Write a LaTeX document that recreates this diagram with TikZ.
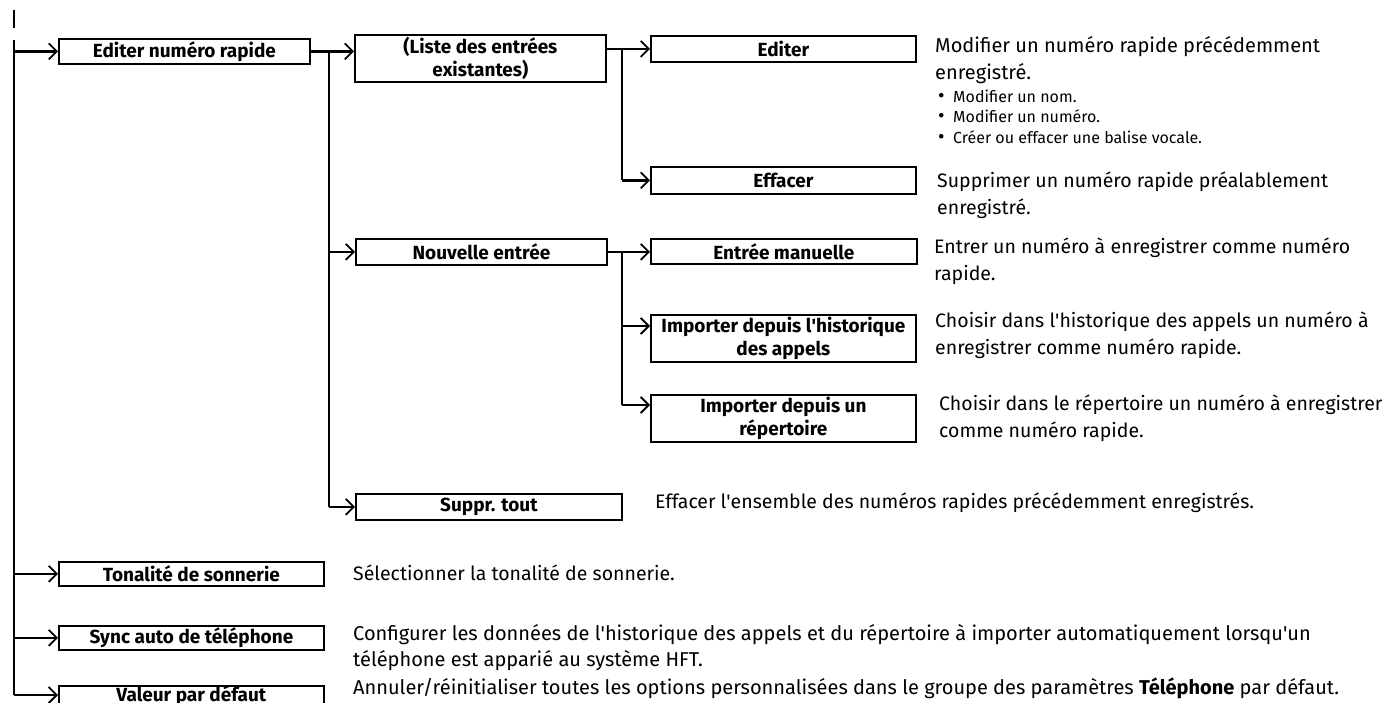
\documentclass[tikz,border=0pt]{standalone}
\usepackage{fontspec}
\setmainfont{Fira Sans}
\usetikzlibrary{arrows.meta}
\newcommand{\ap}{\textquotesingle}
\newcommand{\dotmark}{\makebox[15pt][l]{\smash{\fontsize{20}{0}\selectfont\textbullet}}}

\tikzset{
  menubox/.style={draw, line width=1.8pt, inner sep=0pt, anchor=north west, align=center,
    font=\fontsize{19}{23}\selectfont\bfseries},
  desc/.style={anchor=base west, inner sep=0pt, align=left, font=\fontsize{19.5}{27}\selectfont},
  bullets/.style={anchor=base west, inner sep=0pt, align=left, font=\fontsize{16}{20.5}\selectfont},
  branch/.style={line width=2.2pt},
  feed/.style={line width=2.2pt, -{Straight Barb[length=8pt,width=16pt,line width=1.8pt]}},
}

\begin{document}
\begin{tikzpicture}[x=1pt,y=-1pt]
  \useasboundingbox (0,0) rectangle (1384,702);
  \fill[white] (0,0) rectangle (1384,702);

  % Main menu column
  \node[menubox, minimum width=251, minimum height=25] (edit) at (58,38) {Editer numéro rapide};
  \node[menubox, minimum width=265, minimum height=24] (tone) at (58,561) {Tonalité de sonnerie};
  \node[menubox, minimum width=265, minimum height=24] (sync) at (58,625) {Sync auto de téléphone};
  \node[menubox, minimum width=265, minimum height=16] (reset) at (58,685) {Valeur par défaut};

  % Second column
  \node[menubox, minimum width=251, minimum height=47] (list) at (354,34) {(Liste des entrées\\existantes)};
  \node[menubox, minimum width=251, minimum height=26] (new) at (355,238) {Nouvelle entrée};
  \node[menubox, minimum width=266, minimum height=26] (clear) at (355,493) {Suppr. tout};

  % Third column
  \node[menubox, minimum width=265, minimum height=26] (editer) at (650,35) {Editer};
  \node[menubox, minimum width=265, minimum height=27] (erase) at (650,166) {Effacer};
  \node[menubox, minimum width=266, minimum height=25] (manual) at (650,238) {Entrée manuelle};
  \node[menubox, minimum width=265, minimum height=47] (hist) at (650,314) {Importer depuis l\ap historique\\des appels};
  \node[menubox, minimum width=265, minimum height=47] (dir) at (650,394) {Importer depuis un\\répertoire};

  % Trunk and branches
  \coordinate (stub) at (14,10);
  \coordinate (stubend) at (14,28);
  \coordinate (trunk) at (14,40);
  \coordinate (trunkend) at (14,695);
  \coordinate (forka) at (329,0);
  \coordinate (forkb) at (622,0);
  \coordinate (histin) at (622,326);
  \coordinate (dirin) at (622,405);

  \draw[branch] (stub) -- (stubend);
  \draw[branch] (trunk) -- (trunkend);
  \draw[feed] (trunk |- edit.west) -- (edit.west);
  \draw[feed] (trunk |- tone.west) -- (tone.west);
  \draw[feed] (trunk |- sync.west) -- (sync.west);
  \draw[feed] (trunkend) -- (trunkend -| reset.west);

  \draw[feed] (edit.east) -- (edit.east -| list.west);
  \draw[branch] (forka |- edit.east) -- (forka |- clear.west);
  \draw[feed] (forka |- new.west) -- (new.west);
  \draw[feed] (forka |- clear.west) -- (clear.west);

  \draw[feed] (list.east |- editer.west) -- (editer.west);
  \draw[branch] (forkb |- editer.west) -- (forkb |- erase.west);
  \draw[feed] (forkb |- erase.west) -- (erase.west);

  \draw[feed] (new.east) -- (new.east -| manual.west);
  \draw[branch] (forkb |- new.east) -- (dirin);
  \draw[feed] (histin) -- (histin -| hist.west);
  \draw[feed] (dirin) -- (dirin -| dir.west);

  % Descriptions
  \node[desc, font=\fontsize{20}{27}\selectfont] (editerdesc) at (935,79) {Modifier un numéro rapide précédemment\\enregistré.};
  \node[bullets] (editerlist) at (938,143) {%
    \dotmark Modifier un nom.\\
    \dotmark Modifier un numéro.\\
    \dotmark Créer ou effacer une balise vocale.};
  \node[desc] (erasedesc) at (937,214) {Supprimer un numéro rapide préalablement\\enregistré.};
  \node[desc] (manualdesc) at (934,280) {Entrer un numéro à enregistrer comme numéro\\rapide.};
  \node[desc] (histdesc) at (935,354) {Choisir dans l\ap historique des appels un numéro à\\enregistrer comme numéro rapide.};
  \node[desc] (dirdesc) at (939,437) {Choisir dans le répertoire un numéro à enregistrer\\comme numéro rapide.};
  \node[desc] (cleardesc) at (655,508) {Effacer l\ap ensemble des numéros rapides précédemment enregistrés.};
  \node[desc] (tonedesc) at (353,580) {Sélectionner la tonalité de sonnerie.};
  \node[desc, font=\fontsize{20}{26}\selectfont] (syncdesc) at (353,666) {Configurer les données de l\ap historique des appels et du répertoire à importer automatiquement lorsqu\ap un\\téléphone est apparié au système HFT.};
  \node[desc, font=\fontsize{20}{26}\selectfont] (resetdesc) at (353,694) {Annuler/réinitialiser toutes les options personnalisées dans le groupe des paramètres \textbf{Téléphone} par défaut.};
\end{tikzpicture}
\end{document}
